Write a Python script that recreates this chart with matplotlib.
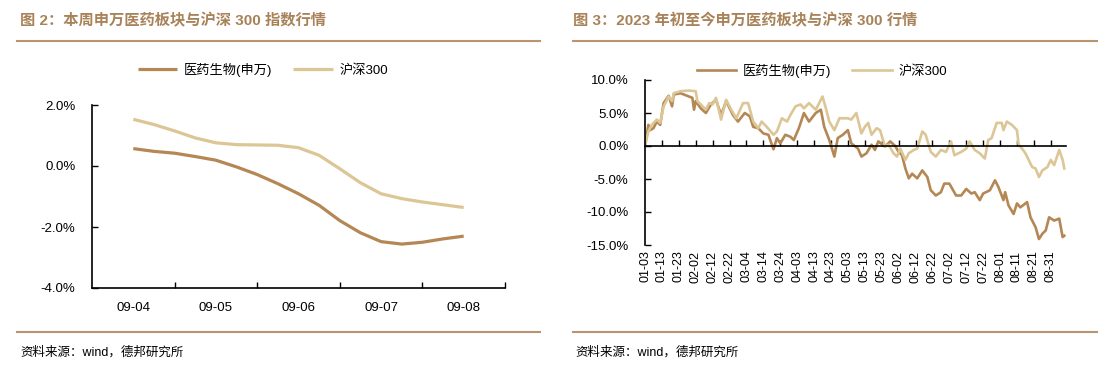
import matplotlib
matplotlib.use("Agg")
import matplotlib.pyplot as plt
import matplotlib.dates as mdates
import pandas as pd

plt.rcParams["font.family"] = ["Liberation Sans", "Noto Sans CJK SC", "DejaVu Sans"]

BROWN = "#b48755"
TAN = "#dcc696"
TITLE_C = "#a88258"
RULE_C = "#b89470"

# ---- left chart: this week ----
week_days = ["09-04", "09-05", "09-06", "09-07", "09-08"]
week_pos = [0, 0.25, 0.5, 0.75, 1, 1.25, 1.5, 1.75, 2, 2.25, 2.5, 2.75, 3, 3.25, 3.5, 3.75, 4]
week_med = [0.57, 0.48, 0.42, 0.31, 0.19, -0.03, -0.28, -0.58, -0.91, -1.29, -1.79, -2.19,
            -2.48, -2.56, -2.50, -2.39, -2.30]
week_hs300 = [1.53, 1.36, 1.15, 0.92, 0.76, 0.70, 0.69, 0.68, 0.60, 0.35, -0.09, -0.55,
              -0.91, -1.07, -1.18, -1.27, -1.36]

# ---- right chart: 2023 YTD ----
med_dates = ["01-03", "01-05", "01-06", "01-08", "01-10", "01-12", "01-14", "01-17", "01-19",
             "01-20", "01-24", "01-28", "01-31", "02-01", "02-02", "02-05", "02-08", "02-11",
             "02-14", "02-17", "02-20", "02-24", "02-27", "03-03", "03-06", "03-08", "03-11",
             "03-14", "03-17", "03-20", "03-22", "03-24", "03-27", "03-30", "04-01", "04-04",
             "04-07", "04-10", "04-14", "04-17", "04-19", "04-22", "04-25", "04-27", "04-30",
             "05-03", "05-05", "05-09", "05-11", "05-14", "05-17", "05-19", "05-21", "05-25",
             "05-28", "05-31", "06-02", "06-04", "06-06", "06-08", "06-10", "06-13", "06-16",
             "06-19", "06-21", "06-24", "06-27", "06-29", "07-02", "07-06", "07-09", "07-12",
             "07-15", "07-17", "07-20", "07-22", "07-26", "07-29", "07-31", "08-03", "08-04",
             "08-06", "08-09", "08-11", "08-13", "08-17", "08-19", "08-22", "08-24", "08-26",
             "08-28", "08-30", "09-02", "09-05", "09-07", "09-08"]
med_ret = [0.0, 3.2, 2.4, 2.7, 3.7, 3.2, 6.5, 7.6, 6.0, 7.8, 8.0, 7.6, 7.3, 5.5, 6.8, 5.7,
           5.0, 6.3, 7.0, 4.7, 6.8, 4.7, 3.7, 5.0, 4.5, 2.9, 2.7, 1.9, 1.7, -0.5, 1.2, 0.4,
           1.7, 1.4, 0.9, 2.7, 5.0, 3.7, 5.0, 5.5, 2.9, 0.9, -1.6, 1.2, 1.7, 2.4, 0.4, -0.4,
           -1.6, -1.1, 0.2, -0.6, 0.7, -0.1, 0.7, 0.0, -0.9, -1.4, -3.4, -4.9, -4.2, -4.9,
           -3.7, -4.7, -6.7, -7.5, -7.0, -5.7, -5.7, -7.5, -7.5, -6.5, -7.2, -7.0, -8.2, -7.2,
           -6.7, -5.2, -6.2, -8.2, -7.0, -9.0, -10.3, -8.7, -9.3, -8.5, -10.8, -12.3, -14.1,
           -13.3, -12.8, -10.8, -11.3, -11.0, -13.8, -13.6]

hs_dates = ["01-03", "01-05", "01-07", "01-10", "01-12", "01-14", "01-17", "01-19", "01-20",
            "01-24", "01-29", "02-02", "02-03", "02-05", "02-08", "02-10", "02-12", "02-14",
            "02-17", "02-20", "02-23", "02-26", "03-02", "03-05", "03-08", "03-11", "03-13",
            "03-16", "03-20", "03-22", "03-25", "03-28", "03-30", "04-02", "04-05", "04-07",
            "04-10", "04-14", "04-18", "04-20", "04-22", "04-25", "04-28", "05-03", "05-05",
            "05-08", "05-11", "05-13", "05-15", "05-17", "05-20", "05-22", "05-25", "05-27",
            "05-30", "06-01", "06-03", "06-06", "06-08", "06-11", "06-13", "06-16", "06-18",
            "06-21", "06-24", "06-27", "06-30", "07-03", "07-05", "07-09", "07-12", "07-14",
            "07-17", "07-20", "07-23", "07-25", "07-27", "07-30", "08-02", "08-03", "08-05",
            "08-08", "08-11", "08-12", "08-14", "08-16", "08-20", "08-22", "08-24", "08-26",
            "08-29", "08-31", "09-02", "09-05", "09-07", "09-08"]
hs_ret = [0.0, 2.2, 3.2, 4.0, 3.5, 6.0, 7.5, 6.8, 8.0, 8.3, 8.4, 8.3, 6.8, 6.3, 5.5, 6.5,
          6.3, 7.3, 4.0, 7.0, 5.5, 4.2, 6.5, 6.5, 3.7, 2.7, 3.7, 2.9, 1.7, 2.2, 4.2, 3.7,
          4.7, 6.0, 6.3, 5.7, 6.5, 5.5, 7.5, 5.7, 3.7, 2.4, 4.2, 4.2, 4.0, 5.0, 1.9, 2.9,
          3.5, 1.7, 2.7, 2.4, -0.1, 0.2, -1.1, -1.6, -0.4, -2.1, -1.1, -0.6, -0.4, 2.2, 1.7,
          -0.9, -1.6, -0.6, -0.9, 0.7, -1.4, -0.9, -0.4, 0.7, -0.6, -1.1, -1.9, 0.9, 1.2,
          3.5, 3.5, 2.4, 3.7, 3.2, 2.4, 0.2, -0.4, -1.1, -3.2, -3.4, -4.7, -3.7, -3.2, -2.1,
          -2.9, -0.6, -2.1, -3.4]

label_med = "医药生物(申万)"
label_hs = "沪深300"


def to_date(s):
    return pd.Timestamp("2023-" + s)


fig = plt.figure(figsize=(11.14, 3.65), dpi=100)

# titles, rules, source
fig.text(20 / 1114, 1 - 21 / 365, "图 2：本周申万医药板块与沪深 300 指数行情", fontsize=11,
         fontweight="bold", color=TITLE_C, va="center", ha="left")
fig.text(573 / 1114, 1 - 21 / 365, "图 3：2023 年初至今申万医药板块与沪深 300 行情", fontsize=11,
         fontweight="bold", color=TITLE_C, va="center", ha="left")
for x0, x1 in [(17, 540), (573, 1097)]:
    for yy in [41, 332]:
        fig.add_artist(plt.Line2D([x0 / 1114, x1 / 1114], [1 - yy / 365] * 2,
                                  color=RULE_C, lw=1.5))
fig.text(20 / 1114, 1 - 352 / 365, "资料来源：wind，德邦研究所", fontsize=9, va="center")
fig.text(575 / 1114, 1 - 352 / 365, "资料来源：wind，德邦研究所", fontsize=9, va="center")

# left chart
ax1 = fig.add_axes([92 / 1114, 1 - 288 / 365, (505 - 92) / 1114, (288 - 105) / 365])
ax1.plot(week_pos, week_med, color=BROWN, lw=2.3, label=label_med, solid_capstyle="butt")
ax1.plot(week_pos, week_hs300, color=TAN, lw=2.3, label=label_hs, solid_capstyle="butt")
ax1.set_xlim(-0.5, 4.5)
ax1.set_ylim(-4, 2)
ax1.set_yticks([-4, -2, 0, 2])
ax1.set_yticklabels([f"{v:.1f}%" for v in [-4, -2, 0, 2]])
ax1.set_xticks([0.5, 1.5, 2.5, 3.5, 4.5])
ax1.set_xticklabels([])
ax1.set_xticks(range(len(week_days)), minor=True)
ax1.set_xticklabels(week_days, minor=True)
ax1.tick_params(axis="x", which="minor", length=0, pad=10, labelsize=9.5)
ax1.tick_params(axis="both", which="major", direction="in", length=4, width=1, labelsize=9.5)
ax1.tick_params(axis="y", pad=12)
for s in ["top", "right"]:
    ax1.spines[s].set_visible(False)
for s in ["left", "bottom"]:
    ax1.spines[s].set_linewidth(1.2)
fig.legend(*ax1.get_legend_handles_labels(), loc="center", ncol=2, frameon=False,
           bbox_to_anchor=(263 / 1114, 1 - 70 / 365), fontsize=9.5, handlelength=3,
           columnspacing=1.6, handletextpad=0.5)

# right chart
ax2 = fig.add_axes([645 / 1114, 1 - 245 / 365, (1066 - 645) / 1114, (245 - 80) / 365])
ax2.plot([to_date(d) for d in med_dates], med_ret, color=BROWN, lw=1.9, label=label_med)
ax2.plot([to_date(d) for d in hs_dates], hs_ret, color=TAN, lw=1.9, label=label_hs)
ax2.set_ylim(-15, 10)
ax2.set_xlim(to_date("01-03"), to_date("09-09"))
yt = [-15, -10, -5, 0, 5, 10]
ax2.set_yticks(yt)
ax2.set_yticklabels([f"{v:.1f}%" for v in yt])
xt = pd.date_range("2023-01-03", "2023-08-31", freq="10D")
ax2.set_xticks(xt)
ax2.tick_params(axis="x", direction="in", length=4, width=1, labelbottom=False)
ax2.tick_params(axis="y", direction="in", length=4, width=1, labelsize=9.5, pad=12)
ax2.spines["bottom"].set_position(("data", 0))
for s in ["top", "right"]:
    ax2.spines[s].set_visible(False)
for s in ["left", "bottom"]:
    ax2.spines[s].set_linewidth(1.2)
sec = ax2.secondary_xaxis("bottom")
sec.set_xticks(xt)
sec.xaxis.set_major_formatter(mdates.DateFormatter("%m-%d"))
sec.tick_params(length=0, labelsize=9, labelrotation=90, pad=4)
sec.spines["bottom"].set_visible(False)
fig.legend(*ax2.get_legend_handles_labels(), loc="center", ncol=2, frameon=False,
           bbox_to_anchor=(822 / 1114, 1 - 71 / 365), fontsize=9.5, handlelength=3,
           columnspacing=1.6, handletextpad=0.5)

fig.savefig("out.png", dpi=100)
